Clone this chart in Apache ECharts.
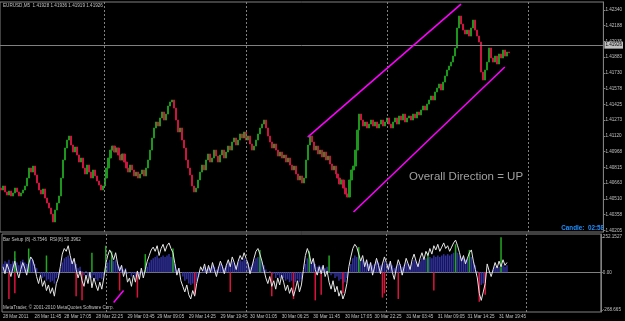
<!DOCTYPE html>
<html>
<head>
<meta charset="utf-8">
<script src="https://cdn.jsdelivr.net/npm/echarts@6/dist/echarts.min.js"></script>
<style>
html, body { margin: 0; padding: 0; background: #000; }
#chart { width: 625px; height: 321px; }
</style>
</head>
<body>
<div id="chart"></div>
<script>
// EURUSD M5 closes, one per column of the chart
const closes = [
  1.40596,1.40635,1.40577,1.40547,1.40586,1.40538,1.40567,1.40615,1.40577,1.40538,1.40567,1.40596,1.40635,1.40712,1.40809,1.40770,
  1.40828,1.40741,1.40664,1.40596,1.40557,1.40606,1.40518,1.40470,1.40421,1.40363,1.40286,1.40402,1.40470,1.40538,1.40712,1.40887,
  1.41003,1.41080,1.41119,1.41032,1.40964,1.41013,1.40935,1.40867,1.40906,1.40809,1.40751,1.40838,1.40770,1.40712,1.40790,1.40732,
  1.40683,1.40644,1.40596,1.40635,1.40712,1.40809,1.40906,1.40983,1.41022,1.40964,1.41003,1.40935,1.40887,1.40945,1.40867,1.40809,
  1.40770,1.40838,1.40790,1.40732,1.40770,1.40712,1.40751,1.40790,1.40732,1.40809,1.40887,1.40983,1.41100,1.41197,1.41255,1.41216,
  1.41294,1.41352,1.41274,1.41332,1.41410,1.41449,1.41468,1.41390,1.41274,1.41158,1.41197,1.41080,1.41003,1.40887,1.40809,1.40741,
  1.40635,1.40577,1.40615,1.40693,1.40770,1.40838,1.40790,1.40887,1.40945,1.40867,1.40906,1.40983,1.40925,1.40867,1.40935,1.40983,
  1.40906,1.40964,1.41022,1.40983,1.41061,1.41100,1.41032,1.41080,1.41139,1.41100,1.41158,1.41080,1.41119,1.41042,1.40983,1.41022,
  1.41080,1.41139,1.41197,1.41235,1.41274,1.41197,1.41119,1.41061,1.41003,1.41042,1.40983,1.40925,1.40964,1.40906,1.40935,1.40867,
  1.40906,1.40838,1.40790,1.40828,1.40751,1.40693,1.40732,1.40664,1.40712,1.40887,1.41032,1.41119,1.41061,1.40983,1.41022,1.40945,
  1.40983,1.40916,1.40964,1.40887,1.40925,1.40848,1.40790,1.40828,1.40751,1.40712,1.40654,1.40693,1.40615,1.40557,1.40528,1.40693,
  1.40790,1.40828,1.40983,1.41177,1.41332,1.41274,1.41216,1.41255,1.41197,1.41235,1.41274,1.41216,1.41255,1.41197,1.41235,1.41274,
  1.41216,1.41255,1.41294,1.41235,1.41197,1.41255,1.41294,1.41235,1.41313,1.41274,1.41332,1.41255,1.41294,1.41313,1.41274,1.41332,
  1.41294,1.41352,1.41323,1.41371,1.41410,1.41371,1.41429,1.41468,1.41507,1.41468,1.41546,1.41584,1.41623,1.41565,1.41642,1.41701,
  1.41759,1.41797,1.41836,1.41894,1.41972,1.42166,1.42282,1.42204,1.42146,1.42108,1.42146,1.42088,1.42166,1.42243,1.42146,1.42088,
  1.42030,1.41739,1.41662,1.41759,1.41836,1.41972,1.41875,1.41836,1.41894,1.41817,1.41914,1.41875,1.41952,1.41894,1.41933,1.41926
];
const firstOpen = 1.40615;
const bid = 1.41926;

const priceTicks = [1.42340, 1.42188, 1.42035, 1.41883, 1.41730, 1.41578, 1.41425, 1.41273,
  1.41120, 1.40968, 1.40815, 1.40663, 1.40510, 1.40358, 1.40205];

const timeLabels = ['28 Mar 2011', '28 Mar 11:45', '28 Mar 17:05', '28 Mar 22:25', '29 Mar 03:45',
  '29 Mar 09:05', '29 Mar 14:25', '29 Mar 19:45', '30 Mar 01:05', '30 Mar 06:25', '30 Mar 11:45',
  '30 Mar 17:05', '30 Mar 22:25', '31 Mar 03:45', '31 Mar 09:05', '31 Mar 14:25', '31 Mar 19:45'];
const timeLabelAt = [0, 16, 31, 47, 63, 78, 94, 110, 125, 141, 157, 173, 188, 204, 220, 235, 251];
const daySeparators = [52, 123, 194, 265];
const barSlots = 303;

// hand drawn channel, [bar, price]
const channelUpper = [[153.5, 1.41109], [230.5, 1.42398]];
const channelLower = [[176.5, 1.40383], [253, 1.41788]];

// lower window
const rsiLine = [
  40,-10,60,20,-30,30,80,10,-40,20,70,30,-20,60,110,90,
  40,-30,-80,-20,-100,-60,-130,-90,-150,-110,-170,-80,-40,40,130,
  170,150,190,120,60,100,20,-40,10,-60,
  -100,-20,-80,0,-110,-40,-90,-130,-70,-120,
  -40,60,120,160,130,90,140,60,10,50,
  -30,20,-70,-40,-100,-20,-70,10,-50,30,-40,20,80,120,160,
  180,150,190,120,170,200,150,190,210,170,140,60,-20,30,-60,
  -100,-140,-90,-160,-190,-130,-170,-80,-20,40,
  10,60,-10,50,0,70,20,-30,30,80,40,-10,50,90,40,110,70,20,80,120,
  90,140,100,60,-10,40,100,150,170,130,80,20,-40,-80,-30,
  -100,-60,-120,-40,-90,-20,-70,-130,-90,-150,-110,-170,-120,-60,-140,
  -90,20,120,170,130,60,100,20,-20,40,
  -10,50,-30,10,-70,-120,-60,-140,-100,-170,-130,-190,-150,-80,40,
  110,170,200,180,130,80,120,40,90,10,
  70,-20,40,100,50,-10,60,110,70,20,80,0,-50,30,90,50,-20,40,100,60,20,90,130,80,40,100,140,90,150,120,
  170,130,190,160,200,150,180,210,170,190,150,180,210,230,190,140,80,120,60,100,
  140,160,80,20,-40,-150,-200,-140,-80,60,
  10,-30,20,70,30,80,40,90,50,70
];
const setupBars = [
  60,80,70,90,60,80,100,70,50,80,90,70,60,80,110,90,
  60,30,0,-20,-40,-30,-60,-50,-70,-60,-80,-40,-20,20,70,
  100,110,120,100,80,90,60,30,40,10,
  -20,10,-30,0,-40,-20,-50,-60,-40,-50,
  -20,30,70,90,100,80,90,60,40,50,
  20,30,-10,0,-30,-10,-30,0,-20,10,-10,10,40,70,90,
  100,110,120,100,110,120,110,120,130,110,100,60,20,30,0,
  -30,-60,-50,-80,-90,-80,-90,-60,-30,0,
  20,40,20,40,30,50,40,20,40,60,50,30,50,70,60,80,70,50,70,90,
  80,100,90,70,40,50,80,100,110,100,80,50,20,0,10,
  -20,-10,-40,-20,-40,-20,-40,-60,-50,-70,-60,-80,-70,-50,-70,
  -50,0,60,100,90,70,80,60,40,50,
  40,50,30,40,10,-20,-10,-40,-30,-60,-50,-80,-70,-40,10,
  60,100,120,110,100,80,90,70,80,60,
  70,50,60,80,70,50,60,80,70,60,70,50,30,40,60,60,40,50,70,60,50,70,90,80,60,80,100,90,100,100,
  110,100,120,110,120,110,120,130,120,130,120,130,140,150,140,120,100,110,90,100,
  110,110,80,50,10,-50,-90,-80,-60,0,
  10,0,20,40,30,40,30,50,40,50
];
const redSpikes = [[3,-190],[6,-150],[37,-170],[40,-200],[59,-130],[68,-180],[97,-160],[115,-140],
  [136,-170],[147,-190],[158,-200],[161,-160],[172,-150],[192,-180],[193,-150],[200,-190],
  [218,-130],[241,-210],[244,-160]];
const greenSpikes = [[6,150],[13,170],[22,120],[45,140],[52,190],[55,150],[72,130],[86,170],
  [130,160],[155,150],[165,120],[180,180],[215,140],[229,200],[236,160],[252,250]];
const indicatorDrawn = [[56,-215],[61,-130]];
const indTicks = [252.1527, 0, -268.665];
const indTickText = ['252.1527', '0.00', '-268.665'];

const chart = echarts.init(document.getElementById('chart'));

let cats = [];
for (let i = 0; i < barSlots; i++) cats.push(String(i));
let labelMap = {};
timeLabelAt.forEach((k, j) => { labelMap[k] = timeLabels[j]; });

let ohlc = closes.map((c, i) => {
  const o = i === 0 ? firstOpen : closes[i - 1];
  return [o, c, Math.min(o, c), Math.max(o, c)];
});

const gray = '#808080';
const txt = '#c0c0c0';
const small = 4.6;
const font = 'Liberation Sans';
const upColor = '#1c961c';
const downColor = '#cc143f';

const sepLine = {
  silent: true,
  symbol: ['none', 'none'],
  animation: false,
  label: { show: false },
  lineStyle: { color: gray, type: [2, 2], width: 1 },
  data: daySeparators.map(v => ({ xAxis: v }))
};

const option = {
  backgroundColor: '#000',
  animation: false,
  textStyle: { fontFamily: font },
  grid: [
    { left: 0, right: 19, top: 2, height: 230, show: true, borderColor: gray, borderWidth: 1 },
    { left: 0, right: 19, top: 234, height: 78, show: true, borderColor: gray, borderWidth: 1 }
  ],
  xAxis: [
    {
      type: 'category', gridIndex: 0, data: cats,
      axisLine: { show: false }, axisTick: { show: false }, axisLabel: { show: false },
      splitLine: { show: false }
    },
    {
      type: 'category', gridIndex: 1, data: cats,
      axisLine: { lineStyle: { color: gray } },
      axisTick: {
        alignWithLabel: true, length: 2, lineStyle: { color: gray },
        interval: (idx) => labelMap[idx] !== undefined
      },
      axisLabel: {
        interval: (idx) => labelMap[idx] !== undefined,
        formatter: (v, idx) => labelMap[idx] || '',
        align: 'left', margin: 2, color: txt, fontSize: small, fontFamily: font
      },
      splitLine: { show: false }
    }
  ],
  yAxis: [
    {
      type: 'value', gridIndex: 0, position: 'right', min: 1.40189, max: 1.42418, scale: true,
      axisLine: { show: true, lineStyle: { color: gray } },
      axisTick: { show: true, length: 2, lineStyle: { color: gray }, customValues: priceTicks },
      axisLabel: {
        customValues: priceTicks, formatter: v => v.toFixed(5),
        color: txt, fontSize: small, margin: 2, fontFamily: font
      },
      splitLine: { show: false }
    },
    {
      type: 'value', gridIndex: 1, position: 'right', min: -283, max: 273.6,
      axisLine: { show: true, lineStyle: { color: gray } },
      axisTick: { show: true, length: 2, lineStyle: { color: gray }, customValues: indTicks },
      axisLabel: {
        customValues: indTicks,
        formatter: v => indTickText[indTicks.indexOf(v)] || '',
        color: txt, fontSize: small, margin: 2, fontFamily: font
      },
      splitLine: { show: false }
    }
  ],
  series: [
    {
      type: 'candlestick', name: 'EURUSD,M5', xAxisIndex: 0, yAxisIndex: 0,
      data: ohlc, barWidth: '80%',
      itemStyle: { color: upColor, color0: downColor, borderColor: upColor, borderColor0: downColor, borderWidth: 1 },
      markLine: {
        silent: true, symbol: ['none', 'none'], animation: false,
        lineStyle: { color: gray, type: [2, 2], width: 1 },
        label: { show: false },
        data: daySeparators.map(v => ({ xAxis: v })).concat([{
          yAxis: bid,
          lineStyle: { color: gray, type: 'solid', width: 1 },
          label: {
            show: true, position: 'end', distance: 1, formatter: bid.toFixed(5),
            backgroundColor: '#c0c0c0', color: '#000', fontSize: small, padding: [1, 1], fontFamily: font
          }
        }])
      }
    },
    {
      type: 'line', name: 'channel up', xAxisIndex: 0, yAxisIndex: 0, data: channelUpper,
      symbol: 'none', z: 5, lineStyle: { color: '#ff00ff', width: 1.5 }
    },
    {
      type: 'line', name: 'channel down', xAxisIndex: 0, yAxisIndex: 0, data: channelLower,
      symbol: 'none', z: 5, lineStyle: { color: '#ff00ff', width: 1.5 }
    },
    {
      type: 'bar', name: 'Bar Setup', xAxisIndex: 1, yAxisIndex: 1, data: setupBars,
      barWidth: 1.5, barGap: '-100%', itemStyle: { color: '#30309e' },
      markLine: sepLine
    },
    {
      type: 'bar', name: 'down', xAxisIndex: 1, yAxisIndex: 1, data: redSpikes,
      barWidth: 1.5, barGap: '-100%', itemStyle: { color: '#dc143c' }
    },
    {
      type: 'bar', name: 'up', xAxisIndex: 1, yAxisIndex: 1, data: greenSpikes,
      barWidth: 1.5, barGap: '-100%', itemStyle: { color: '#22a822' }
    },
    {
      type: 'line', name: 'RSI(8)', xAxisIndex: 1, yAxisIndex: 1, data: rsiLine,
      symbol: 'none', z: 4, lineStyle: { color: '#e6e6e6', width: 1 }
    },
    {
      type: 'line', name: 'drawn', xAxisIndex: 1, yAxisIndex: 1, data: indicatorDrawn,
      symbol: 'none', z: 5, lineStyle: { color: '#ff00ff', width: 1.5 }
    }
  ],
  graphic: [
    { type: 'text', left: 3, top: 3, style: { text: 'EURUSD,M5  1.41928 1.41936 1.41919 1.41926', fill: txt, fontSize: small, fontFamily: font } },
    { type: 'text', left: 409, top: 171, style: { text: 'Overall Direction = UP', fill: '#a0a0a0', fontSize: 11.5, fontFamily: font } },
    { type: 'text', right: 21, top: 225, style: { text: 'Candle:  02:58', fill: '#1e90ff', fontSize: 6.3, fontWeight: 'bold', fontFamily: font } },
    { type: 'text', left: 3, top: 237, style: { text: 'Bar Setup (8) -8.7546  RSI(8) 50.3962', fill: txt, fontSize: small, fontFamily: font } },
    { type: 'text', left: 3, top: 305, style: { text: 'MetaTrader, \u00a9 2001-2010 MetaQuotes Software Corp.', fill: txt, fontSize: small, fontFamily: font } }
  ]
};

chart.setOption(option);
window.addEventListener('resize', () => {
  chart.resize();
});
</script>
</body>
</html>
